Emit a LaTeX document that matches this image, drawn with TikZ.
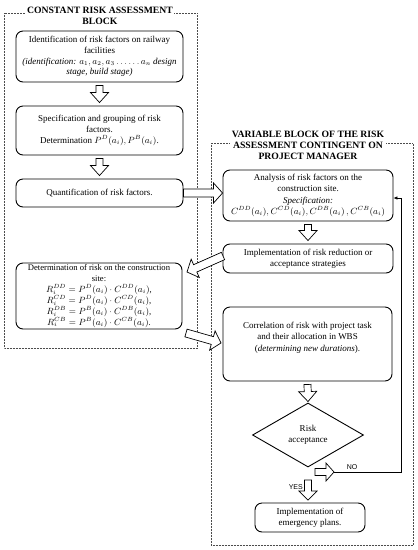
\documentclass[tikz,border=0pt]{standalone}
\usepackage{fontspec}
\setmainfont{Liberation Serif}
\newfontfamily\labelsans{Liberation Sans}
\usetikzlibrary{calc,shapes.geometric,arrows.meta}

\tikzset{
  box/.style={draw, line width=0.9pt, rounded corners=7pt, align=center,
    font=\fontsize{9}{10.6}\selectfont, inner sep=1pt},
  blockframe/.style={densely dotted, line width=0.5pt, draw=black!70},
  blocktitle/.style={fill=white, align=center,
    font=\fontsize{9.7}{11.3}\selectfont\bfseries, inner sep=1.5pt},
  blockarrow/.style={draw, line width=0.7pt, fill=white, line join=miter},
  decision/.style={diamond, draw, line width=0.9pt, align=center,
    font=\fontsize{9}{11}\selectfont, inner sep=0pt},
  feedback/.style={draw, line width=0.6pt, -{Latex[length=4pt,width=3.5pt]}},
  yesno/.style={font=\labelsans\fontsize{7}{8}\selectfont, inner sep=0pt}
}

% hollow block arrow from #1 to #2; #3 shaft half width, #4 head half width, #5 head length
\newcommand\blockarr[5]{%
  \path ($(#2)!#5!(#1)$) coordinate (hb);
  \draw[blockarrow] ($(#1)!#3!90:(#2)$) -- ($(hb)!#3!90:(#2)$) -- ($(hb)!#4!90:(#2)$)
    -- (#2) -- ($(hb)!#4!-90:(#2)$) -- ($(hb)!#3!-90:(#2)$) -- ($(#1)!#3!-90:(#2)$) -- cycle;
}

\begin{document}
\begin{tikzpicture}[x=1pt,y=-1pt]
\useasboundingbox (0,0) rectangle (418,550);

% ---------- frames ----------
\draw[blockframe] (4,13) rectangle (197,348);
\draw[blockframe] (211,143) rectangle (413,545);
\node[blocktitle] (t1) at (100,15.5) {CONSTANT RISK ASSESSMENT\\BLOCK};
\node[blocktitle] (t2) at (308,145.5) {VARIABLE BLOCK OF THE RISK\\ASSESSMENT CONTINGENT ON\\PROJECT MANAGER};

% ---------- left block ----------
\node[box, minimum width=167pt, minimum height=51pt] (b1) at (99.5,56.5)
  {Identification of risk factors on railway\\facilities\\
   \textit{(identification: $a_1, a_2, a_3\ldots\ldots a_n$ design}\\
   \textit{stage, build stage)}};
\node[box, minimum width=167pt, minimum height=49pt] (b2) at (99.5,130.5)
  {Specification and grouping of risk\\factors.\\Determination $P^D(a_i), P^B(a_i)$.};
\node[box, minimum width=167pt, minimum height=28pt] (b3) at (99.5,193)
  {Quantification of risk factors.};
\node[box, minimum width=166pt, minimum height=66pt, font=\fontsize{8.6}{10.9}\selectfont] (b4) at (99,296)
  {Determination of risk on the construction\\site:\\
   $R_i^{DD} = P^D(a_i)\cdot C^{DD}(a_i)$,\\
   $R_i^{CD} = P^D(a_i)\cdot C^{CD}(a_i)$,\\
   $R_i^{DB} = P^B(a_i)\cdot C^{DB}(a_i)$,\\
   $R_i^{CB} = P^B(a_i)\cdot C^{CB}(a_i)$.};

% ---------- right block ----------
\node[box, minimum width=170pt, minimum height=51pt, font=\fontsize{9}{11.3}\selectfont] (ba) at (308,195.5)
  {Analysis of risk factors on the\\construction site.\\\textit{Specification:}\\
   $C^{DD}(a_i), C^{CD}(a_i), C^{DB}(a_i)\,, C^{CB}(a_i)$};
\node[box, minimum width=170pt, minimum height=29pt] (bb) at (308,258.5)
  {Implementation of risk reduction or\\acceptance strategies};
\node[box, minimum width=169pt, minimum height=74pt, font=\fontsize{9}{11.5}\selectfont] (bc) at (307.5,344)
  {Correlation of risk with project task\\and their allocation in WBS\\(\textit{determining new durations}).\\[3pt]};
\node[decision, minimum width=111pt, minimum height=64pt] (dc) at (308,435)
  {Risk\\acceptance};
\node[box, minimum width=110pt, minimum height=29pt] (bd) at (310,517.5)
  {Implementation of\\emergency plans.};

% ---------- vertical hollow arrows ----------
\path ($(b1.south)+(0,3)$) coordinate (a1s) ($(b2.north)+(0,-3)$) coordinate (a1e);
\blockarr{a1s}{a1e}{3.5pt}{9pt}{10pt}
\path ($(b2.south)+(0,3)$) coordinate (a2s) ($(b3.north)+(0,-3)$) coordinate (a2e);
\blockarr{a2s}{a2e}{3.5pt}{9pt}{10pt}
\path ($(ba.south)+(0,3)$) coordinate (a3s) ($(bb.north)+(0,-3)$) coordinate (a3e);
\blockarr{a3s}{a3e}{3.5pt}{9pt}{10pt}
\path ($(bc.south)+(0,3)$) coordinate (a4s) ($(dc.north)+(0,-1)$) coordinate (a4e);
\blockarr{a4s}{a4e}{3.5pt}{9pt}{10pt}

% ---------- cross arrows ----------
\path (b3.east) coordinate (c1s) (ba.west |- b3.east) coordinate (c1e);
\blockarr{c1s}{c1e}{4pt}{10pt}{9pt}
\path (223,256) coordinate (c2s) (187,272) coordinate (c2e);
\blockarr{c2s}{c2e}{4pt}{10pt}{9pt}
\path (186,333) coordinate (c3s) (221,343) coordinate (c3e);
\blockarr{c3s}{c3e}{4pt}{10pt}{9pt}

% ---------- decision outputs ----------
\coordinate (nos) at (315,472);
\coordinate (noe) at (334,472);
\blockarr{nos}{noe}{3.5pt}{9pt}{8pt}
\coordinate (fbr) at (401,472);
\draw[feedback] (noe) -- (fbr) |- (ba.east |- 0,198);
\node[yesno, anchor=south] (nol) at (352,470) {NO};

\coordinate (yess) at (308,480);
\coordinate (yese) at (308,500);
\blockarr{yess}{yese}{3.5pt}{9pt}{9pt}
\node[yesno, anchor=east] (yesl) at (303,487) {YES};
\end{tikzpicture}
\end{document}
